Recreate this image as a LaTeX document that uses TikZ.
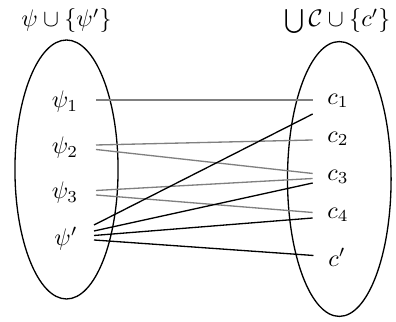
\documentclass[tikz,border=0pt]{standalone}
\begin{document}
\begin{tikzpicture}[x=0.417pt,y=-0.417pt,
  lbl/.style={inner sep=0pt,font=\normalsize},
  soft/.style={draw={rgb,255:red,128;green,128;blue,128},line width=0.55pt},
  hard/.style={draw=black,line width=0.55pt},
  blob/.style={draw=black,line width=0.55pt}]
\useasboundingbox (0,0) rectangle (396,322);
% ellipses
\draw[blob] (66.5,169.5) ellipse (21.5pt and 54pt);
\draw[blob] (339.3,179) ellipse (21.6pt and 57.3pt);
% titles
\node[lbl,anchor=base] (tl) at (66.5,27) {$\psi\cup\{\psi'\}$};
\node[lbl,anchor=base] (tr) at (337.5,27) {$\bigcup\mathcal{C}\cup\{c'\}$};
% left labels
\node[lbl] (p1) at (65,102) {$\psi_1$};
\node[lbl] (p2) at (65,148) {$\psi_2$};
\node[lbl] (p3) at (65,193) {$\psi_3$};
\node[lbl] (pp) at (66,239) {$\psi'$};
% right labels
\node[lbl] (c1) at (338,101) {$c_1$};
\node[lbl] (c2) at (338,139) {$c_2$};
\node[lbl] (c3) at (338,177) {$c_3$};
\node[lbl] (c4) at (338,215) {$c_4$};
\node[lbl] (cp) at (337,257) {$c'$};
% endpoints
\coordinate (a1) at (96,100);   \coordinate (b1) at (312.7,100);
\coordinate (a2) at (96,145);   \coordinate (b2) at (312.7,140);
\coordinate (a2b) at (96,149.5);\coordinate (b3) at (312.7,173.5);
\coordinate (a3) at (96,190.5); \coordinate (b3b) at (312.7,178.5);
\coordinate (a3b) at (96,195);  \coordinate (b4) at (312.7,212.5);
\coordinate (q1) at (94,225);   \coordinate (d1) at (312.7,114);
\coordinate (q2) at (94,231);   \coordinate (d3) at (312.7,183);
\coordinate (q3) at (94,235.5); \coordinate (d4) at (312.7,218);
\coordinate (q4) at (94,240);   \coordinate (dp) at (313.5,255.5);
% gray connectors
\draw[soft] (a1) -- (b1);
\draw[soft] (a2) -- (b2);
\draw[soft] (a2b) -- (b3);
\draw[soft] (a3) -- (b3b);
\draw[soft] (a3b) -- (b4);
% black connectors
\draw[hard] (q1) -- (d1);
\draw[hard] (q2) -- (d3);
\draw[hard] (q3) -- (d4);
\draw[hard] (q4) -- (dp);
\end{tikzpicture}
\end{document}
